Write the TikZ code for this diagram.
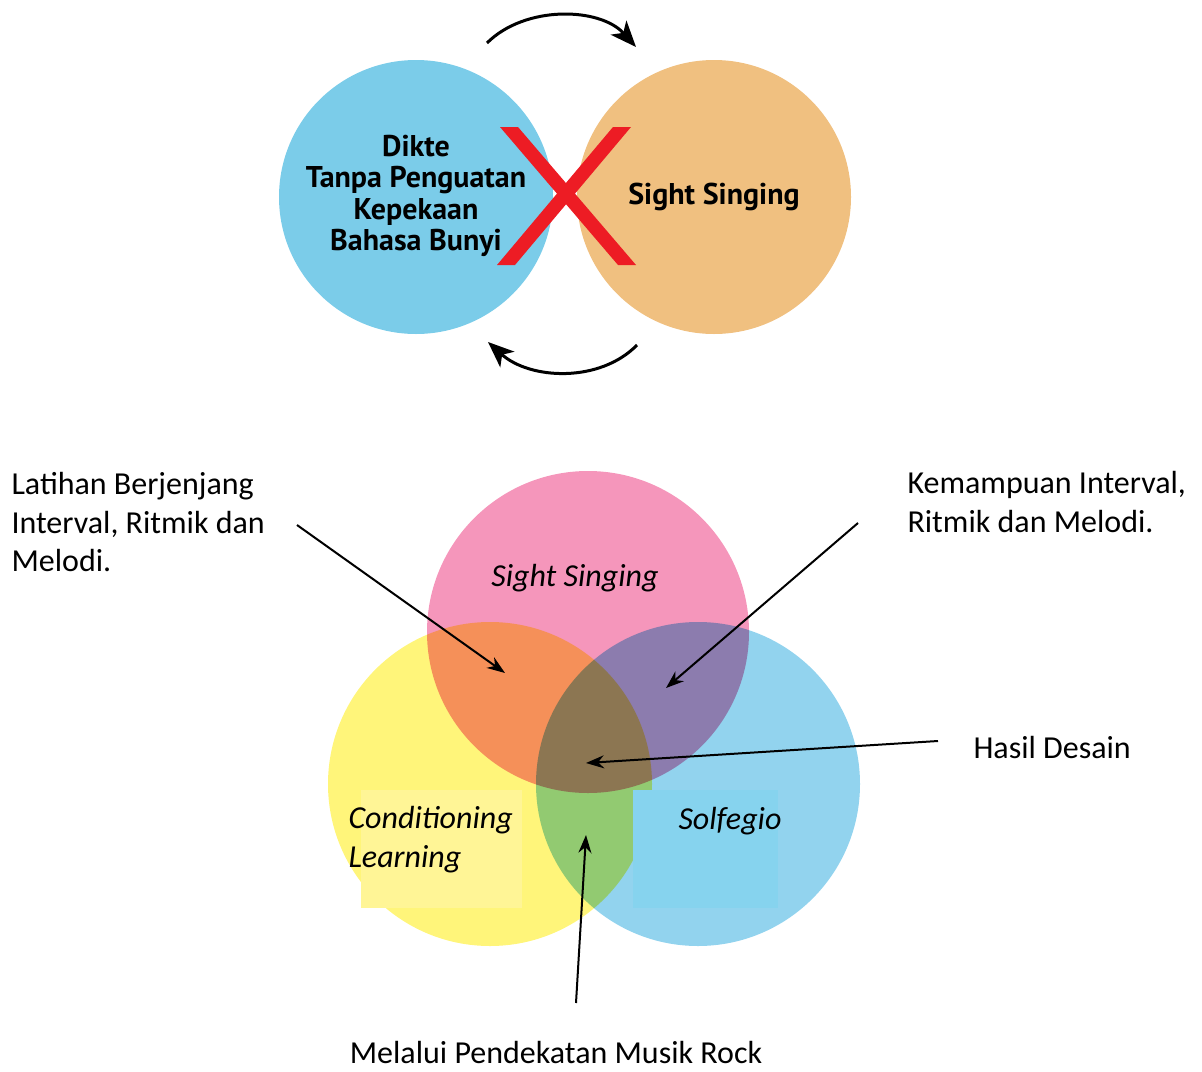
\documentclass[tikz,border=0pt]{standalone}
\usepackage{fontspec}
\setmainfont{Carlito}
\newfontfamily\headfont{PT Sans}
\usetikzlibrary{arrows.meta}

\definecolor{dikteblue}{RGB}{123,204,233}
\definecolor{sightorange}{RGB}{240,192,128}
\definecolor{crossred}{RGB}{237,28,36}
\definecolor{venpink}{RGB}{245,150,187}
\definecolor{venyellow}{RGB}{255,245,122}
\definecolor{venblue}{RGB}{146,211,238}
\definecolor{patchyellow}{RGB}{255,245,150}
\definecolor{patchblue}{RGB}{134,211,238}

\tikzset{
  circlab/.style={font=\headfont\bfseries\fontsize{30}{31.5}\selectfont, align=center},
  venlab/.style={font=\itshape\fontsize{32}{39}\selectfont},
  sidelab/.style={font=\fontsize{32}{38.5}\selectfont, align=left},
  pointer/.style={line width=2pt, -{Stealth[length=18pt,width=13pt]}},
  turn/.style={line width=3pt, -{Stealth[length=26pt,width=21pt,inset=7pt]}}
}

\begin{document}
\begin{tikzpicture}[x=1pt, y=-1pt]
		\useasboundingbox (0,0) rectangle (1202,1071);
		%%%%% TOP %%%%%
		\fill[dikteblue] (416,197) circle[radius=137pt];
		\fill[sightorange] (714,197) circle[radius=137pt];
		
		\fill[crossred] (500,127) -- (518,127) -- (636,265) -- (618,265) -- cycle;
		\fill[crossred] (613,127) -- (631,127) -- (515,265) -- (497,265) -- cycle;
		
		\node[circlab] (dikte) at (416,196) {Dikte\\Tanpa Penguatan\\Kepekaan\\Bahasa Bunyi};
		\node[circlab] (sight) at (714,197) {Sight Singing};
		
		\coordinate (turnAfrom) at (487,43);
		\coordinate (turnAto) at (636,47);
		\coordinate (turnBfrom) at (637,345);
		\coordinate (turnBto) at (488,342);
		\draw[turn] (turnAfrom) .. controls (525,5) and (600,7) .. (turnAto);
		\draw[turn] (turnBfrom) .. controls (600,383) and (530,380) .. (turnBto);
		
		%%%%% VENN %%%%%
		\begin{scope}[blend group=multiply]
			\fill[venyellow] (490,784) circle[radius=162pt];
			\fill[venblue] (698,784) circle[radius=162pt];
			\fill[venpink] (588,632) circle[radius=161pt];
		\end{scope}
		\fill[patchyellow] (361,790) rectangle (522,908);
		\fill[patchblue] (633,790) rectangle (778,908);
		
		\node[venlab] (ss) at (575,578) {Sight Singing};
		\node[venlab, align=left, anchor=west] (cl) at (345,840) {Conditioning\\Learning};
		\node[venlab] (solf) at (730,821) {Solfegio};
		
		\node[sidelab, anchor=north west] (latihan) at (8,469) {Latihan Berjenjang\\Interval, Ritmik dan\\Melodi.};
		\node[sidelab, anchor=north west] (kemampuan) at (904,468) {Kemampuan Interval,\\Ritmik dan Melodi.};
		\node[sidelab, anchor=west] (hasil) at (970,747) {Hasil Desain};
		\node[sidelab, inner sep=0pt] (melalui) at (556,1052) {Melalui Pendekatan Musik Rock};
		
		\coordinate (fromA) at (297,525);
		\coordinate (tipA) at (505,673);
		\coordinate (fromB) at (858,523);
		\coordinate (tipB) at (666,688);
		\coordinate (fromC) at (938,741);
		\coordinate (tipC) at (586,763);
		\coordinate (fromD) at (576,1003);
		\coordinate (tipD) at (586,835);
		\draw[pointer] (fromA) -- (tipA);
		\draw[pointer] (fromB) -- (tipB);
		\draw[pointer] (fromC) -- (tipC);
		\draw[pointer] (fromD) -- (tipD);
		%%%%% END %%%%%
\end{tikzpicture}
\end{document}
